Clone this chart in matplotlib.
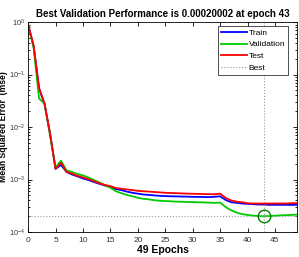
import matplotlib
matplotlib.use('Agg')
import matplotlib.pyplot as plt

epochs = list(range(50))

train = [0.9, 0.35, 0.055, 0.027, 0.0075, 0.0016, 0.0019, 0.0014, 0.00125, 0.00115,
         0.00105, 0.00098, 0.0009, 0.00083, 0.00077, 0.00072, 0.00066, 0.00063, 0.00059, 0.00056,
         0.00054, 0.00052, 0.00051, 0.00050, 0.00049, 0.000485, 0.00048, 0.000478, 0.000475, 0.000473,
         0.00047, 0.000468, 0.000466, 0.000464, 0.00047, 0.00048, 0.00041, 0.00037, 0.00036, 0.00035,
         0.000345, 0.00034, 0.000335, 0.000335, 0.00033, 0.00033, 0.00033, 0.00033, 0.00033, 0.00033]

validation = [0.85, 0.33, 0.035, 0.028, 0.007, 0.0017, 0.0023, 0.0015, 0.0014, 0.00128,
              0.0012, 0.0011, 0.00098, 0.00088, 0.00078, 0.0007, 0.0006, 0.00055, 0.00051, 0.00048,
              0.00045, 0.00043, 0.00042, 0.000405, 0.000395, 0.00039, 0.000385, 0.00038, 0.000378, 0.000375,
              0.000372, 0.00037, 0.000367, 0.000364, 0.00036, 0.000365, 0.0003, 0.00026, 0.000235, 0.00022,
              0.000212, 0.000206, 0.000202, 0.00020002, 0.000202, 0.000205, 0.000208, 0.00021, 0.000212, 0.000215]

test = [0.9, 0.36, 0.055, 0.028, 0.0075, 0.0016, 0.0021, 0.0014, 0.0013, 0.00118,
        0.0011, 0.00102, 0.00093, 0.00085, 0.00079, 0.00075, 0.00069, 0.00067, 0.00065, 0.00063,
        0.00061, 0.0006, 0.00059, 0.00058, 0.00057, 0.00056, 0.000555, 0.00055, 0.000545, 0.00054,
        0.000537, 0.000533, 0.00053, 0.000527, 0.000525, 0.00054, 0.00045, 0.0004, 0.00038, 0.00037,
        0.000355, 0.00035, 0.00035, 0.00035, 0.00035, 0.00035, 0.00035, 0.00035, 0.000355, 0.000355]

best_epoch = 43
best_perf = 0.00020002

plt.rcParams['font.family'] = ['Liberation Sans', 'DejaVu Sans']

fig = plt.figure(figsize=(2.99, 2.57), dpi=100)
ax = fig.add_axes([0.094, 0.097, 0.899, 0.817])

ax.semilogy(epochs, train, color='#0000ff', lw=1.3, label='Train')
ax.semilogy(epochs, validation, color='#00cc00', lw=1.3, label='Validation')
ax.semilogy(epochs, test, color='#ff0000', lw=1.3, label='Test')
ax.axvline(best_epoch, color='#999999', ls=':', lw=0.8, label='Best')
ax.axhline(best_perf, color='#999999', ls=':', lw=0.8)
ax.plot(best_epoch, best_perf, 'o', mfc='none', mec='#008000', ms=9, mew=1.0)

ax.set_xlim(0, 49)
ax.set_ylim(1e-4, 1)
ax.set_xticks([0, 5, 10, 15, 20, 25, 30, 35, 40, 45])
ax.tick_params(which='both', direction='in', top=True, right=True, labelsize=6,
               labelcolor='#333333', width=0.6)
ax.tick_params(axis='y', labelsize=5.3, pad=2.5)
ax.tick_params(which='major', length=3)
ax.tick_params(which='minor', length=1.5)
for s in ax.spines.values():
    s.set_linewidth(0.6)

ax.set_title('Best Validation Performance is 0.00020002 at epoch 43',
             fontsize=7, fontweight='bold', pad=4)
ax.set_xlabel('49 Epochs', fontsize=7.5, fontweight='bold', labelpad=1)
ax.set_ylabel('Mean Squared Error  (mse)', fontsize=6.2, fontweight='bold')
ax.yaxis.set_label_coords(-0.076, 0.5)

leg = ax.legend(loc='upper right', bbox_to_anchor=(0.967, 0.981), borderaxespad=0,
                fontsize=6, handlelength=3.1, fancybox=False, framealpha=1,
                edgecolor='#333333', labelspacing=0.45, borderpad=0.35, handletextpad=0.2)
leg.get_frame().set_linewidth(0.6)

fig.savefig('out.png', dpi=100)
